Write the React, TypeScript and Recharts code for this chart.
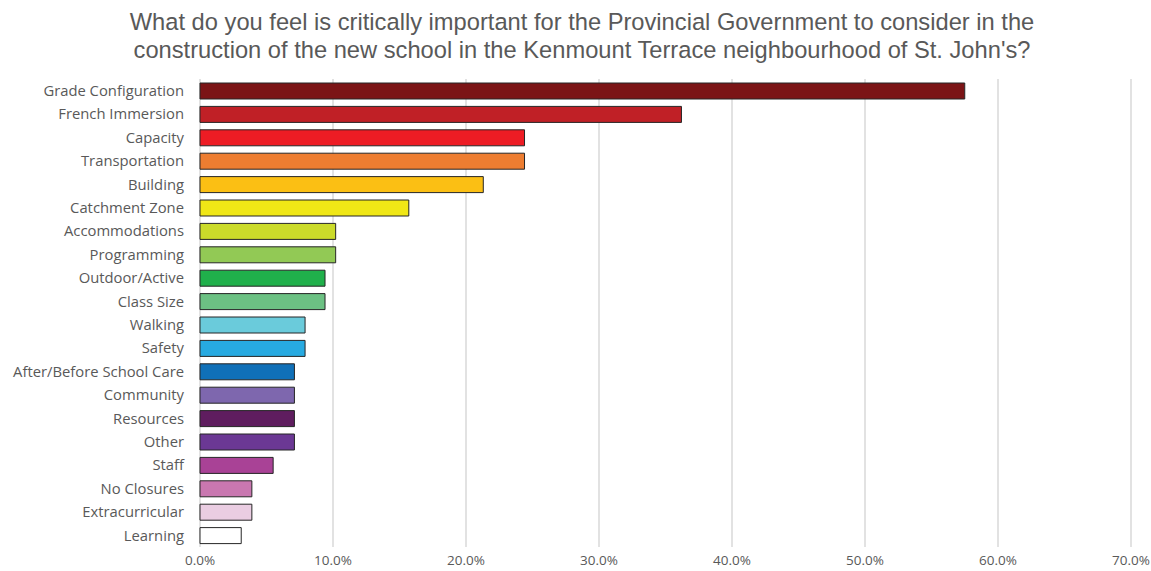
import { Bar, BarChart, CartesianGrid, Cell, XAxis, YAxis } from 'recharts'

const categories = [
  'Grade Configuration',
  'French Immersion',
  'Capacity',
  'Transportation',
  'Building',
  'Catchment Zone',
  'Accommodations',
  'Programming',
  'Outdoor/Active',
  'Class Size',
  'Walking',
  'Safety',
  'After/Before School Care',
  'Community',
  'Resources',
  'Other',
  'Staff',
  'No Closures',
  'Extracurricular',
  'Learning'
]

// share of respondents, in percent
const shares = [
  57.5, 36.2, 24.4, 24.4, 21.3, 15.7, 10.2, 10.2, 9.4, 9.4, 7.9, 7.9, 7.1, 7.1, 7.1, 7.1, 5.5,
  3.9, 3.9, 3.1
]

const xTicks = [0, 10, 20, 30, 40, 50, 60, 70]

const barColors = [
  '#7b1416',
  '#c02026',
  '#ed1c24',
  '#ed7d31',
  '#fbbf14',
  '#f0e716',
  '#cbdb2a',
  '#92c955',
  '#20b04b',
  '#6cc183',
  '#6acbdb',
  '#27aae1',
  '#1070b8',
  '#7e67ae',
  '#5f1d5f',
  '#6b3894',
  '#a94296',
  '#c977b0',
  '#eacde2',
  '#ffffff'
]

const data = categories.map((name, i) => ({ name, value: shares[i] }))

const yTickStyle = { fill: '#595959', fontSize: 14.8, fontFamily: 'Open Sans, sans-serif' }
const xTickStyle = { fill: '#595959', fontSize: 13.5, fontFamily: 'Open Sans, sans-serif' }

export default function App() {
  return (
    <div style={{ position: 'absolute', left: 0, top: 0, width: 1151, height: 571, background: '#fff' }}>
      <div
        style={{
          position: 'absolute',
          left: 0,
          top: 8,
          width: 1164,
          textAlign: 'center',
          color: '#595959',
          fontFamily: '"Liberation Sans", Arial, sans-serif',
          fontSize: 23.7,
          lineHeight: '28px'
        }}>
        What do you feel is critically important for the Provincial Government to consider in the
        <br />
        construction of the new school in the Kenmount Terrace neighbourhood of St. John's?
      </div>
      <BarChart
        width={1151}
        height={571}
        data={data}
        layout="vertical"
        margin={{ top: 79, right: 20, left: 0, bottom: 0 }}>
        <CartesianGrid horizontal={false} stroke="#d9d9d9" strokeWidth={1.5} />
        <XAxis
          type="number"
          domain={[0, 70]}
          ticks={xTicks}
          tickFormatter={(v: number) => v.toFixed(1) + '%'}
          axisLine={false}
          tickLine={false}
          tick={xTickStyle}
          tickMargin={2}
          interval={0}
          height={24}
        />
        <YAxis
          type="category"
          dataKey="name"
          width={200}
          axisLine={false}
          tickLine={false}
          tick={yTickStyle}
          tickMargin={10}
          interval={0}
        />
        <Bar dataKey="value" barSize={16} stroke="#262626" strokeWidth={1} isAnimationActive={false}>
          {data.map((d, i) => (
            <Cell key={d.name} fill={barColors[i]} />
          ))}
        </Bar>
      </BarChart>
    </div>
  )
}
